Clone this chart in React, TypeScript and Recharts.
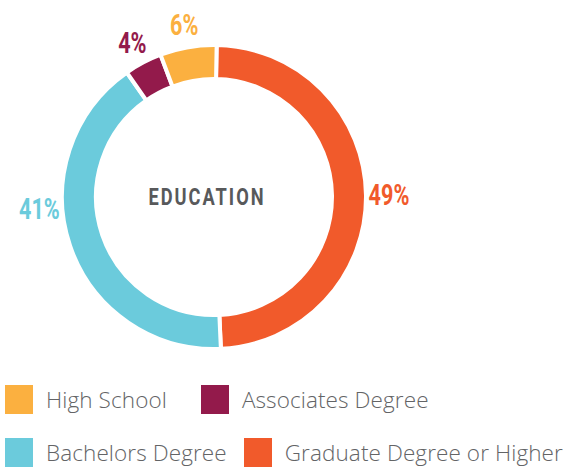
import { PieChart, Pie, Cell, Label } from "recharts";

const categories = ["Graduate Degree or Higher", "Bachelors Degree", "Associates Degree", "High School"];
const shares = [49, 41, 4, 6];
const legendOrder = ["High School", "Associates Degree", "Bachelors Degree", "Graduate Degree or Higher"];

const COLORS: Record<string, string> = {
  "High School": "#FBB040",
  "Associates Degree": "#931A4B",
  "Bachelors Degree": "#6BCBDC",
  "Graduate Degree or Higher": "#F15A2B",
};

const data = categories.map((name, i) => ({ name, value: shares[i] }));

const CX = 209;
const CY = 192;
const CONDENSED = "Roboto, 'Open Sans', sans-serif";
const RAD = Math.PI / 180;

// condensed-looking text: squeeze horizontally around its anchor
function Squeezed({ x, y, fill, size, spacing = 0, sx = 0.72, children }: any) {
  return (
    <text
      transform={`translate(${x},${y}) scale(${sx},1)`}
      fill={fill}
      textAnchor="middle"
      dominantBaseline="central"
      fontFamily={CONDENSED}
      fontWeight={700}
      fontSize={size}
      letterSpacing={spacing}
    >
      {children}
    </text>
  );
}

function renderPct(props: any) {
  const { cx, cy, midAngle, outerRadius, percent, name } = props;
  const r = outerRadius + 23;
  let x = cx + r * Math.cos(-midAngle * RAD);
  let y = cy + r * Math.sin(-midAngle * RAD);
  // big slices keep their label close to the horizontal axis
  if (percent > 0.3) {
    const dy = Math.max(-12, Math.min(12, y - cy));
    y = cy + dy;
    x = cx + Math.sign(x - cx) * Math.sqrt(r * r - dy * dy);
  }
  return (
    <Squeezed x={x} y={y} fill={COLORS[name]} size={30}>
      {Math.round(percent * 100)}%
    </Squeezed>
  );
}

export default function App() {
  return (
    <div style={{ position: "absolute", left: 0, top: 0, width: 572, height: 469, background: "#fff" }}>
      <PieChart width={572} height={370}>
        <Pie
          data={data}
          dataKey="value"
          nameKey="name"
          cx={CX}
          cy={CY}
          innerRadius={118}
          outerRadius={152}
          startAngle={89}
          endAngle={-271}
          stroke="#fff"
          strokeWidth={4}
          label={renderPct}
          labelLine={false}
          isAnimationActive={false}
        >
          {data.map((d) => (
            <Cell key={d.name} fill={COLORS[d.name]} />
          ))}
          <Label
            position="center"
            content={() => (
              <Squeezed x={CX - 2} y={CY + 5} fill="#58595B" size={24} spacing={2.6} sx={0.76}>
                EDUCATION
              </Squeezed>
            )}
          />
        </Pie>
      </PieChart>
      <div
        style={{
          position: "absolute",
          left: 5,
          top: 385,
          width: 567,
          fontFamily: "'Open Sans', sans-serif",
          fontWeight: 300,
          fontSize: 22.5,
          color: "#636466",
          whiteSpace: "nowrap",
        }}
      >
        {[legendOrder.slice(0, 2), legendOrder.slice(2)].map((row, ri) => (
          <div key={ri} style={{ display: "flex", alignItems: "center", height: 29, marginBottom: ri === 0 ? 24 : 0 }}>
            {row.map((name) => (
              <div key={name} style={{ display: "flex", alignItems: "center", marginRight: ri === 0 ? 34 : 17 }}>
                <span style={{ width: 28, height: 29, background: COLORS[name], display: "inline-block", marginRight: 13 }} />
                <span style={{ letterSpacing: 0.1 }}>{name}</span>
              </div>
            ))}
          </div>
        ))}
      </div>
    </div>
  );
}
